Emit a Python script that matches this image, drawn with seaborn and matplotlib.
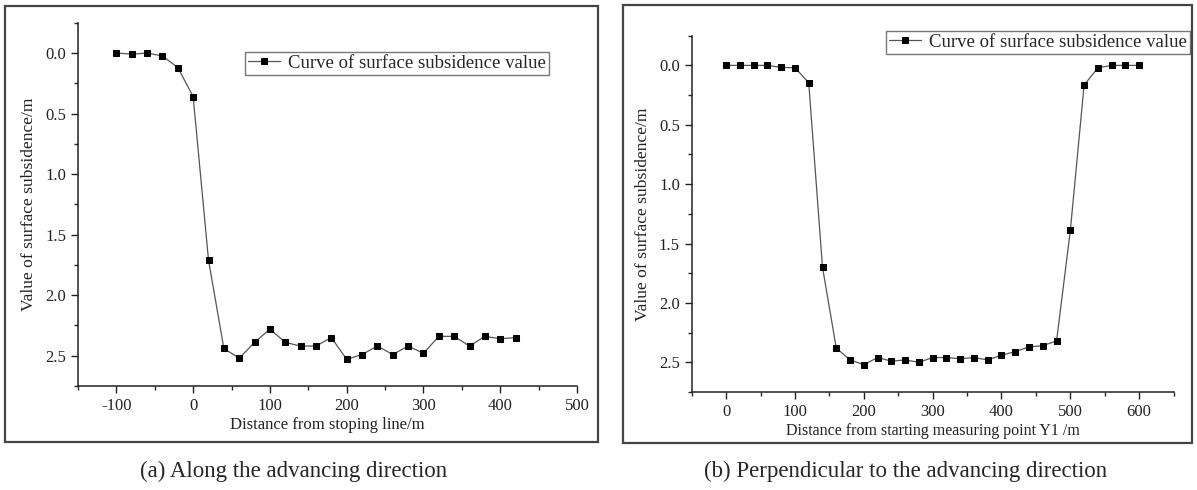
import numpy as np
import pandas as pd
import seaborn as sns
import matplotlib.pyplot as plt
from matplotlib.patches import Rectangle
from matplotlib.ticker import MultipleLocator

# ---- data ----
x_a = [-100, -80, -60, -40, -20, 0, 20, 40, 60, 80, 100, 120, 140, 160, 180,
       200, 220, 240, 260, 280, 300, 320, 340, 360, 380, 400, 420]
y_a = [0.0, 0.01, 0.0, 0.025, 0.12, 0.36, 1.71, 2.44, 2.52, 2.39, 2.28, 2.39,
       2.42, 2.42, 2.35, 2.53, 2.49, 2.42, 2.49, 2.42, 2.48, 2.34, 2.34, 2.42,
       2.34, 2.36, 2.35]
x_b = [0, 20, 40, 60, 80, 100, 120, 140, 160, 180, 200, 220, 240, 260, 280,
       300, 320, 340, 360, 380, 400, 420, 440, 460, 480, 500, 520, 540, 560,
       580, 600]
y_b = [0.0, 0.0, 0.0, 0.0, 0.017, 0.02, 0.146, 1.70, 2.38, 2.48, 2.52, 2.46,
       2.49, 2.48, 2.50, 2.46, 2.46, 2.47, 2.46, 2.48, 2.44, 2.41, 2.37, 2.36,
       2.32, 1.39, 0.166, 0.02, 0.0, 0.0, 0.0]
legend_label = "Curve of surface subsidence value"
ylabel = "Value of surface subsidence/m"
xlabel_a = "Distance from stoping line/m"
xlabel_b = "Distance from starting measuring point Y1 /m"
caption_a = "(a) Along the advancing direction"
caption_b = "(b) Perpendicular to the advancing direction"

sns.set_theme(style="ticks")
plt.rcParams['font.family'] = ['Liberation Serif', 'DejaVu Serif']
plt.rcParams['axes.unicode_minus'] = False

W, H = 1197, 490
fig = plt.figure(figsize=(W / 100, H / 100), dpi=100)

def fx(px):
    return px / W

def fy(py):
    return 1 - py / H

# panel frames
for (x0, y0, x1, y1) in [(5, 6, 598, 442), (623, 5, 1192, 443)]:
    fig.patches.append(Rectangle((fx(x0), fy(y1)), fx(x1) - fx(x0), fy(y0) - fy(y1),
                                 transform=fig.transFigure, fill=False,
                                 edgecolor='#444444', linewidth=1.6))

ax_a = fig.add_axes([fx(78), fy(386), fx(577) - fx(78), fy(22.7) - fy(386)])
ax_b = fig.add_axes([fx(691.7), fy(392), fx(1173.6) - fx(691.7), fy(35.7) - fy(392)])

df_a = pd.DataFrame({"x": x_a, "y": y_a})
df_b = pd.DataFrame({"x": x_b, "y": y_b})

for ax, df, xl, xlim, xfs in [
        (ax_a, df_a, xlabel_a, (-150, 500), 12),
        (ax_b, df_b, xlabel_b, (-50, 650), 11.5)]:
    sns.lineplot(data=df, x="x", y="y", ax=ax, color='#555555', linewidth=0.9,
                 marker='s', markersize=4, markerfacecolor='black',
                 markeredgecolor='black', label=legend_label)
    ax.set_xlim(*xlim)
    ax.set_ylim(2.75, -0.25)
    ax.xaxis.set_major_locator(MultipleLocator(100))
    ax.xaxis.set_minor_locator(MultipleLocator(50))
    ax.yaxis.set_minor_locator(MultipleLocator(0.25))
    ax.set_yticks([0.0, 0.5, 1.0, 1.5, 2.0, 2.5])
    ax.set_yticklabels(["0.0", "0.5", "1.0", "1.5", "2.0", "2.5"])
    ax.tick_params(which='major', direction='out', length=5, width=1, labelsize=12,
                   colors='#222222')
    ax.tick_params(which='minor', direction='out', length=3, width=1)
    for s in ['top', 'right']:
        ax.spines[s].set_visible(False)
    for s in ['left', 'bottom']:
        ax.spines[s].set_color('#222222')
        ax.spines[s].set_linewidth(1.1)
    ax.set_xlabel(xl, fontsize=xfs, color='#222222', labelpad=2)
    ax.set_ylabel(ylabel, fontsize=12.6, color='#222222', labelpad=6)

leg_kw = dict(loc='upper left', frameon=True, fancybox=False, edgecolor='#555555',
              fontsize=13.5, handlelength=1.7, borderpad=0.15, handletextpad=0.45,
              borderaxespad=0, bbox_transform=fig.transFigure)
ax_a.legend(bbox_to_anchor=(fx(245), fy(52)), **leg_kw)
ax_b.legend(bbox_to_anchor=(fx(886), fy(31)), **leg_kw)

fig.text(fx(294), fy(471), caption_a, ha='center', va='center', fontsize=16.5)
fig.text(fx(906), fy(471), caption_b, ha='center', va='center', fontsize=16.5)

fig.savefig("out.png", dpi=100)
